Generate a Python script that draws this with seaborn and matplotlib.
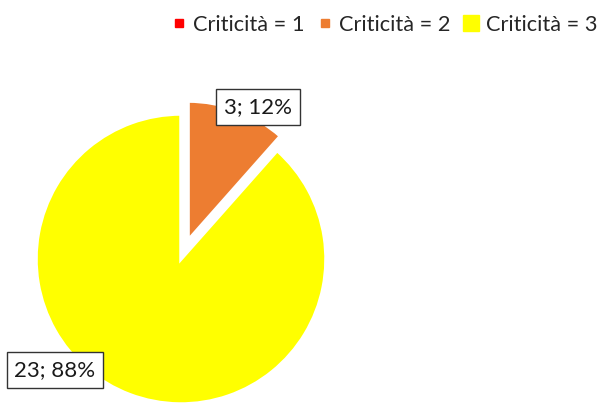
import matplotlib
matplotlib.use("Agg")
import matplotlib.pyplot as plt
import seaborn as sns
from matplotlib.lines import Line2D

categories = ["Criticità = 1", "Criticità = 2", "Criticità = 3"]
values = [0, 3, 23]
percent_labels = ["0; 0%", "3; 12%", "23; 88%"]
colors = ["#FF0000", "#ED7D31", "#FFFF00"]

sns.set_theme(style="white")
plt.rcParams["font.family"] = ["Lato", "DejaVu Sans"]

fig = plt.figure(figsize=(6.03, 4.04), dpi=100)
ax = fig.add_axes([0, 0, 1, 1])

R = 145
cx, cy = 181, 404 - 259
wedges, _ = ax.pie(values, colors=colors, startangle=90, counterclock=False,
                   radius=R, center=(cx, cy), explode=[0, 20, 0],
                   wedgeprops=dict(edgecolor="white", linewidth=2.5),
                   normalize=True, frame=True)
wedges[1].set_radius(R * 0.96)
ax.set_xlim(0, 603)
ax.set_ylim(0, 404)
ax.set_aspect("equal")
ax.axis("off")

box = dict(boxstyle="square,pad=0.35", facecolor="white", edgecolor="#333333", linewidth=1)
ax.text(258, 404 - 107, percent_labels[1], fontsize=16, ha="center", va="center",
        color="#1a1a1a", bbox=box)
ax.text(55, 404 - 370, percent_labels[2], fontsize=16, ha="center", va="center",
        color="#1a1a1a", bbox=box)

sizes = [6, 6, 11]
handles = [Line2D([], [], marker="s", linestyle="none", markersize=s,
                  markerfacecolor=c, markeredgecolor=c)
           for s, c in zip(sizes, colors)]
fig.legend(handles, categories, loc="upper right", bbox_to_anchor=(1.012, 0.995),
           ncol=3, frameon=False, fontsize=15.7, handlelength=0.7,
           handletextpad=0.3, columnspacing=0.6, borderaxespad=0.2)

fig.savefig("out.png", dpi=100, facecolor="white")
